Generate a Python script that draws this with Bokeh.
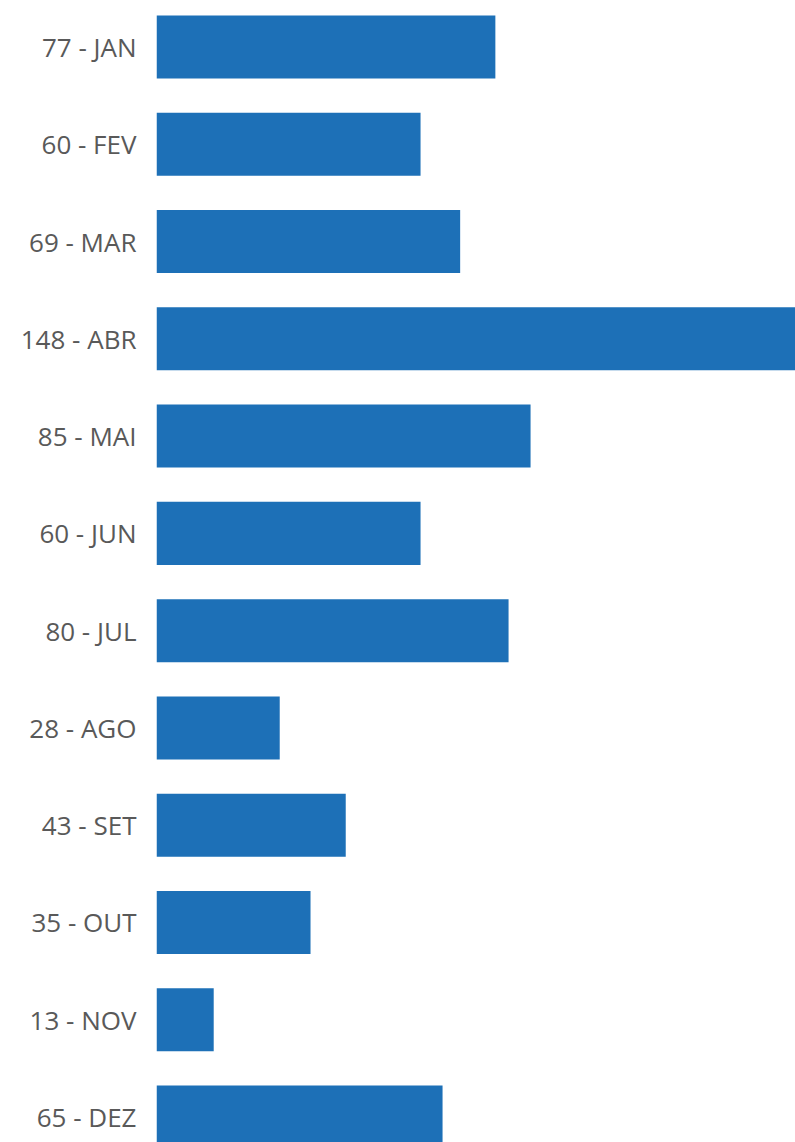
from bokeh.plotting import figure
from bokeh.models import Range1d, FixedTicker
from bokeh.embed import file_html
from bokeh.resources import INLINE

months = ["JAN", "FEV", "MAR", "ABR", "MAI", "JUN", "JUL", "AGO", "SET", "OUT", "NOV", "DEZ"]
values = [77, 60, 69, 148, 85, 60, 80, 28, 43, 35, 13, 65]
labels = [f"{v} - {m}" for v, m in zip(values, months)]
positions = list(range(len(months)))

p = figure(width=795, height=1142, output_backend="svg", toolbar_location=None,
           x_range=Range1d(0, 145.2), y_range=Range1d(11.262, -0.478),
           min_border_left=156, min_border_right=0, min_border_top=0, min_border_bottom=0)

p.hbar(y=positions, right=values, left=0, height=0.648, color="#1D70B7", line_color=None)

p.xaxis.visible = False
p.xgrid.visible = False
p.ygrid.visible = False
p.outline_line_color = None
p.background_fill_color = "white"
p.border_fill_color = "white"

ya = p.yaxis[0]
ya.ticker = FixedTicker(ticks=positions)
ya.major_label_overrides = {i: l for i, l in enumerate(labels)}
ya.axis_line_color = None
ya.major_tick_line_color = None
ya.minor_tick_line_color = None
ya.major_tick_out = 0
ya.major_tick_in = 0
ya.major_label_standoff = 20
ya.major_label_text_font = "Open Sans"
ya.major_label_text_font_size = "26px"
ya.major_label_text_color = "#595959"

open("out.html", "w").write(file_html(p, INLINE))
